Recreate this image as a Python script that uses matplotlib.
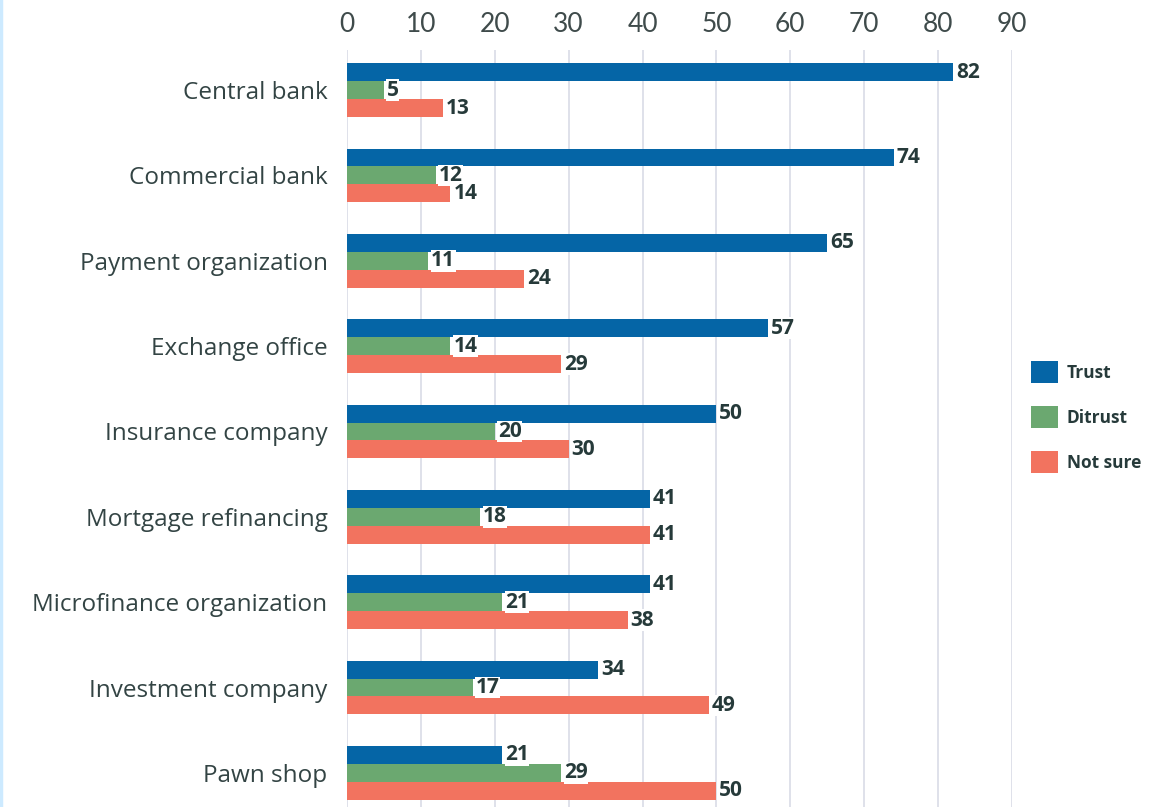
import matplotlib.pyplot as plt
import numpy as np

categories = ["Central bank", "Commercial bank", "Payment organization", "Exchange office",
              "Insurance company", "Mortgage refinancing", "Microfinance organization",
              "Investment company", "Pawn shop"]
trust = [82, 74, 65, 57, 50, 41, 41, 34, 21]
distrust = [5, 12, 11, 14, 20, 18, 21, 17, 29]
not_sure = [13, 14, 24, 29, 30, 41, 38, 49, 50]
series_names = ["Trust", "Ditrust", "Not sure"]
xticks = list(range(0, 100, 10))

colors = ["#0565a6", "#6ba870", "#f2735f"]
text_dark = "#263a3a"
label_col = "#334444"

plt.rcParams["font.family"] = ["Open Sans", "DejaVu Sans"]

fig = plt.figure(figsize=(11.63, 8.07), dpi=100)
ax = fig.add_axes([347 / 1163, 0.0, (1012 - 347) / 1163, 1 - 50 / 807])

y = np.arange(len(categories))
h = 0.21
for k, (vals, c, name) in enumerate(zip([trust, distrust, not_sure], colors, series_names)):
    pos = y + (k - 1) * h
    ax.barh(pos, vals, height=h, color=c, label=name, zorder=3)
    for p, v in zip(pos, vals):
        ax.text(v + 0.4, p, str(v), va="center", ha="left", fontsize=15, fontweight="bold",
                color=text_dark, zorder=4,
                bbox=dict(facecolor="white", edgecolor="none", pad=0.3))

ax.set_xlim(0, 90)
ax.set_ylim(8.4, -0.47)
ax.set_xticks(xticks)
ax.xaxis.tick_top()
ax.tick_params(axis="x", length=0, pad=9, labelsize=19, labelcolor="#3f4b4b")
for t in ax.get_xticklabels():
    t.set_fontfamily(["Lato", "DejaVu Sans"])
ax.set_yticks(y)
ax.set_yticklabels(categories)
ax.tick_params(axis="y", length=0, pad=14, labelsize=17.5, labelcolor=label_col)
ax.grid(axis="x", color="#d9dbe6", lw=1.2, zorder=0)
for s in ax.spines.values():
    s.set_visible(False)

ax.legend(loc="center left", bbox_to_anchor=(1.005, 0.515), frameon=False, handlelength=1.55,
          handleheight=1.55, labelspacing=1.35, handletextpad=0.5,
          prop={"family": "Open Sans", "size": 12.5, "weight": "bold"},
          labelcolor=text_dark)

fig.add_artist(plt.Line2D([0.001, 0.001], [0, 1], color="#cdeaff", lw=2.5, transform=fig.transFigure))

fig.savefig("out.png", dpi=100)
